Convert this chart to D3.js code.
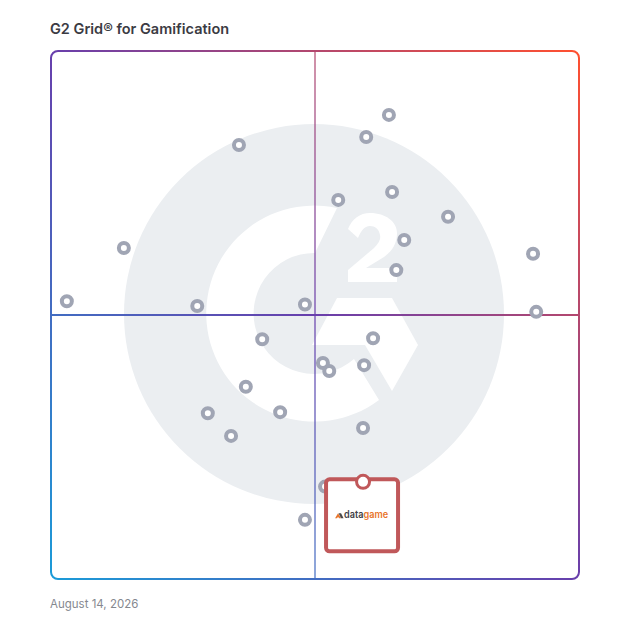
<!DOCTYPE html>
<html>
<head>
<meta charset="utf-8">
<script src="https://cdn.jsdelivr.net/npm/d3@7"></script>
<style>
  html, body { margin: 0; padding: 0; background: #fff; }
  svg { display: block; }
</style>
</head>
<body>
<div id="chart"></div>
<script>
// values, 0-100 on both axes
var satisfaction = [64, 59.7, 35.6, 54.4, 64.6, 75.2, 66.9, 65.4, 13.8, 91.3, 3, 27.7, 48.1, 91.9, 40, 61, 51.5, 52.7, 59.3, 36.9, 29.7, 43.4, 34.1, 59.1, 51.9, 48.1];
var marketPresence = [87.9, 83.7, 82.2, 71.8, 73.3, 68.6, 64.2, 58.5, 62.7, 61.6, 52.6, 51.7, 52, 50.6, 45.4, 45.6, 40.9, 39.4, 40.5, 36.4, 31.4, 31.6, 27.1, 28.6, 17.5, 11.2];
var highlightX = [59.1];
var highlightY = [18.4];

var titleText = "G2 Grid\u00ae for Gamification";
var dateText = "August 14, 2026";
var gradientColors = ["#1b9bd8", "#683fac", "#ff5030"];

var width = 628, height = 628;
var margin = { top: 51, right: 49, bottom: 49, left: 51 };
var chartWidth = width - margin.left - margin.right;
var chartHeight = height - margin.top - margin.bottom;

var x = d3.scaleLinear().domain([0, 100]).range([0, chartWidth]);
var y = d3.scaleLinear().domain([0, 100]).range([chartHeight, 0]);

var svg = d3.select("#chart").append("svg")
    .attr("width", width)
    .attr("height", height);

// diagonal gradient shared by the frame and the quadrant lines
var grad = svg.append("defs").append("linearGradient")
    .attr("id", "frameGrad")
    .attr("gradientUnits", "userSpaceOnUse")
    .attr("x1", margin.left).attr("y1", margin.top + chartHeight)
    .attr("x2", margin.left + chartWidth).attr("y2", margin.top);
gradientColors.forEach(function(c, i) {
    grad.append("stop").attr("offset", i / 2).attr("stop-color", c);
});

svg.append("text")
    .attr("x", 50).attr("y", 34)
    .attr("font-family", "Inter, sans-serif")
    .attr("font-size", 14.5)
    .attr("font-weight", 600)
    .attr("fill", "#3b3b43")
    .text(titleText);

// G2 watermark behind the points
var logo = svg.append("g").attr("transform", "translate(314,314)");
logo.append("circle").attr("r", 190).attr("fill", "#ebeef1");
logo.append("path").attr("fill", "#fff").attr("d", "M23,-106 A108,108 0 1 0 65,86 L40,45 A60.5,60.5 0 1 1 1,-61 Z");
logo.append("path").attr("fill", "#fff").attr("d", "M23,-16 L78,-16 L104,31 L78,77 L51,31 L-2,31 Z");
logo.append("path").attr("fill", "#fff").attr("d", "M34,-85 C38,-95 46,-101 56,-101 C72,-101 83,-92 83,-81 C83,-70 78,-63 70,-57 L52,-46 L83,-46 L83,-32 L34,-32 L34,-44 L60,-66 C65,-71 67,-75 66,-79 C65,-85 61,-88 56,-88 C50,-88 47,-83 44,-76 Z");

// quadrant lines, the vertical one is paler and sits under the horizontal one
svg.append("line")
    .attr("x1", margin.left + x(50)).attr("x2", margin.left + x(50))
    .attr("y1", margin.top + y(100)).attr("y2", margin.top + y(0))
    .attr("stroke", "url(#frameGrad)").attr("stroke-width", 2).attr("opacity", 0.6);
svg.append("line")
    .attr("x1", margin.left + x(0)).attr("x2", margin.left + x(100))
    .attr("y1", margin.top + y(50)).attr("y2", margin.top + y(50))
    .attr("stroke", "url(#frameGrad)").attr("stroke-width", 2);

// outer frame
svg.append("rect")
    .attr("x", margin.left).attr("y", margin.top)
    .attr("width", chartWidth).attr("height", chartHeight)
    .attr("rx", 7)
    .attr("fill", "none")
    .attr("stroke", "url(#frameGrad)")
    .attr("stroke-width", 2);

var chartGroup = svg.append("g")
    .attr("transform", `translate(${margin.left}, ${margin.top})`);

// products
chartGroup.selectAll("circle.product")
    .data(satisfaction)
    .enter()
    .append("circle")
    .attr("class", "product")
    .attr("cx", d => x(d))
    .attr("cy", (d, i) => y(marketPresence[i]))
    .attr("r", 5)
    .attr("fill", "#fff")
    .attr("stroke", "#a0a5b4")
    .attr("stroke-width", 4);

// highlighted product card
var hx = x(highlightX[0]), hy = y(highlightY[0]);
var card = chartGroup.append("g").attr("transform", `translate(${hx}, ${hy})`);
card.append("rect")
    .attr("x", -37).attr("y", -2.5)
    .attr("width", 72).attr("height", 72)
    .attr("rx", 3.5)
    .attr("fill", "#fff")
    .attr("stroke", "#c0585a")
    .attr("stroke-width", 4);
card.append("circle")
    .attr("r", 6.5)
    .attr("fill", "#fff")
    .attr("stroke", "#c0585a")
    .attr("stroke-width", 3);

var brand = card.append("g").attr("transform", "translate(0,34)");
brand.append("path").attr("d", "M-28,2.5 L-25,-2.5 L-22,2.5 L-24,2.5 L-25,0.8 L-26,2.5 Z").attr("fill", "#e8742a");
brand.append("path").attr("d", "M-24.5,-2.5 L-22,-2.5 L-19.5,2.5 L-22,2.5 Z").attr("fill", "#4a4a4a");
var brandText = brand.append("text")
    .attr("x", -19).attr("y", 2.5)
    .attr("font-family", "Inter, sans-serif")
    .attr("font-size", 10)
    .attr("font-weight", 600)
    .attr("textLength", 44)
    .attr("lengthAdjust", "spacingAndGlyphs");
brandText.append("tspan").attr("fill", "#3f3f46").text("data");
brandText.append("tspan").attr("fill", "#e8742a").text("game");

svg.append("text")
    .attr("x", 50).attr("y", 608)
    .attr("font-family", "Inter, sans-serif")
    .attr("font-size", 11.5)
    .attr("fill", "#85888f")
    .text(dateText);
</script>
</body>
</html>
